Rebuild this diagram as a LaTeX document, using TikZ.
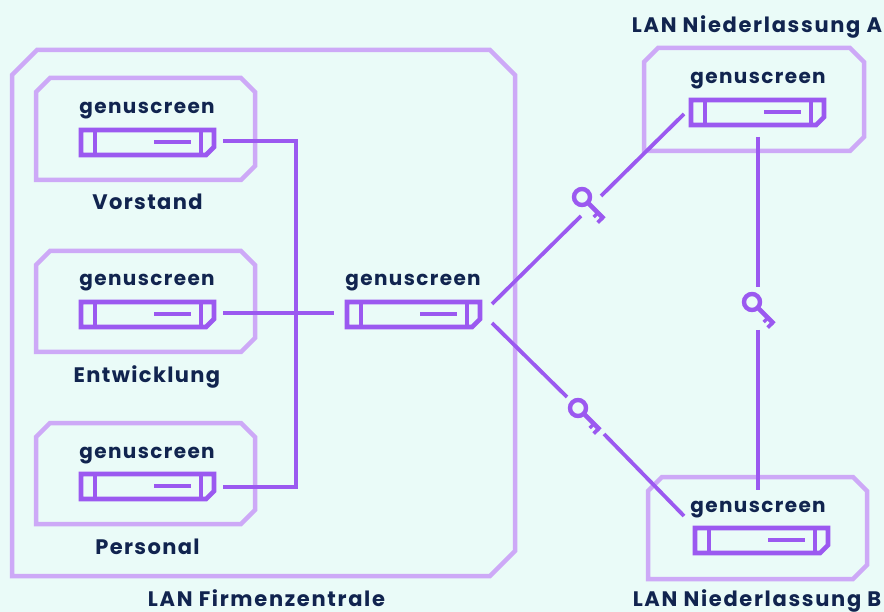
\documentclass[tikz,border=0pt]{standalone}
\usepackage{fontspec}
\setmainfont{Poppins}
\newfontfamily\devfont{Poppins}[LetterSpace=7]
\newfontfamily\namefont{Poppins}[LetterSpace=6.5]
\newfontfamily\lanfont{Poppins}[LetterSpace=8]
\definecolor{bgc}{HTML}{EAFBF8}
\definecolor{linec}{HTML}{9B59F0}
\definecolor{boxc}{HTML}{CDA9F7}
\definecolor{textc}{HTML}{11244F}
\tikzset{
  x=1pt,y=-1pt,
  zone/.style={draw=boxc,line width=4.5pt,miter limit=10},
  link/.style={draw=linec,line width=4.6pt,miter limit=10},
  thinlink/.style={draw=linec,line width=3.8pt},
  devline/.style={draw=linec,line width=4.6pt,miter limit=10},
  lbl/.style={text=textc,inner sep=0pt,anchor=base},
  devlbl/.style={lbl,font=\devfont\fontsize{20}{24}\selectfont\bfseries},
  namelbl/.style={lbl,font=\namefont\fontsize{21}{24}\selectfont\bfseries},
  lanlbl/.style={lbl,font=\lanfont\fontsize{21}{24}\selectfont\bfseries},
  device/.pic={
    \draw[devline] (0,0) -- (133,0) -- (133,17) -- (125,25) -- (0,25) -- cycle;
    \draw[devline] (14,0) -- (14,25);
    \draw[devline] (120,0) -- (120,25);
    \draw[devline] (73,12) -- (110,12);
  },
  keyicon/.pic={
    \begin{scope}[rotate=-45]
    \draw[linec,line width=4.4pt] (0,0) circle[radius=8];
    \draw[linec,line width=4.6pt] (8,0) -- (31,0);
    \draw[linec,line width=3.8pt] (29.2,0) -- (29.2,7);
    \draw[linec,line width=3.4pt] (22.5,0) -- (22.5,6);
    \end{scope}
  }
}
\newcommand{\zonebox}[5]{% name x1 y1 x2 y2
  \draw[zone] (#2+#1,#3) -- (#4-#1,#3) -- (#4,#3+#1) -- (#4,#5-#1) -- (#4-#1,#5) -- (#2,#5) -- (#2,#3+#1) -- cycle;}
\begin{document}
\begin{tikzpicture}
\path[use as bounding box,fill=bgc] (0,0) rectangle (884,612);
% zones
\zonebox{25}{12}{50}{515}{576}
\zonebox{14}{36}{78}{255}{180}
\zonebox{14}{36}{251}{255}{352}
\zonebox{14}{36}{423}{255}{524}
\zonebox{14}{644}{48}{864}{151}
\zonebox{14}{648}{477}{867}{579}
% devices
\pic (d1) at (81,130) {device};
\pic (d2) at (81,302) {device};
\pic (d3) at (81,474) {device};
\pic (dc) at (347,302) {device};
\pic (da) at (691,100) {device};
\pic (db) at (695,528) {device};
% keys
\pic (k1) at (582,197) {keyicon};
\pic (k2) at (578,408) {keyicon};
\pic (k3) at (752,302) {keyicon};
% connector ends
\coordinate (p1) at (223,141);
\coordinate (p2) at (223,313);
\coordinate (p3) at (223,487);
\coordinate (pc) at (334,313);
\coordinate (j1) at (296,141);
\coordinate (j3) at (296,487);
\coordinate (a1) at (492,304);
\coordinate (a2) at (581,216);
\coordinate (a3) at (601,196);
\coordinate (a4) at (684,114);
\coordinate (b1) at (492,323);
\coordinate (b2) at (567,397);
\coordinate (b3) at (604,434);
\coordinate (b4) at (684,516);
\coordinate (v1) at (758,137);
\coordinate (v2) at (758,287);
\coordinate (v3) at (758,330);
\coordinate (v4) at (758,490);
\draw[link] (p1) -- (j1) -- (j3) -- (p3);
\draw[link] (p2) -- (pc);
\draw[thinlink] (a1) -- (a2);
\draw[thinlink] (a3) -- (a4);
\draw[thinlink] (b1) -- (b2);
\draw[thinlink] (b3) -- (b4);
\draw[link] (v1) -- (v2);
\draw[link] (v3) -- (v4);
% labels
\node[devlbl] (t1) at (147,114) {genuscreen};
\node[devlbl] (t2) at (147,286) {genuscreen};
\node[devlbl] (t3) at (147,458) {genuscreen};
\node[devlbl] (tc) at (413,286) {genuscreen};
\node[devlbl] (ta) at (758,84) {genuscreen};
\node[devlbl] (tb) at (758,512) {genuscreen};
\node[namelbl] (n1) at (147.5,209.5) {Vorstand};
\node[namelbl] (n2) at (147,382.5) {Entwicklung};
\node[namelbl] (n3) at (147.5,554) {Personal};
\node[lanlbl] (la) at (757,33) {LAN Niederlassung A};
\node[lanlbl] (lb) at (757,606) {LAN Niederlassung B};
\node[lanlbl] (lf) at (266.5,606) {LAN Firmenzentrale};
\end{tikzpicture}
\end{document}
